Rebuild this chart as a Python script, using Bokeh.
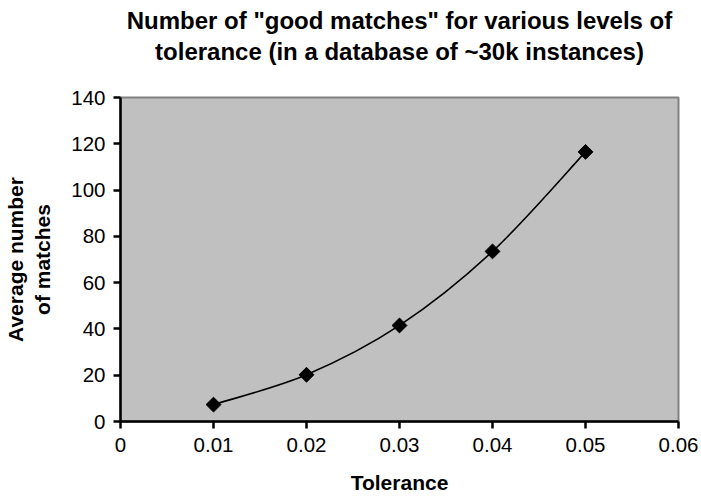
from bokeh.plotting import figure
from bokeh.models import Range1d, FixedTicker, Title
from bokeh.embed import file_html
from bokeh.resources import INLINE

# Tolerance levels and average number of good matches
tolerance = [0.01, 0.02, 0.03, 0.04, 0.05]
avg_matches = [7.3, 20.2, 41.5, 73.5, 116.5]

x_ticks = [0, 0.01, 0.02, 0.03, 0.04, 0.05, 0.06]
x_tick_labels = ["0", "0.01", "0.02", "0.03", "0.04", "0.05", "0.06"]
y_ticks = [0, 20, 40, 60, 80, 100, 120, 140]

title_lines = ["Number of \"good matches\" for various levels of",
               "tolerance (in a database of ~30k instances)"]

FONT = "Liberation Sans"

p = figure(width=701, height=496, output_backend="svg", toolbar_location=None,
           x_range=Range1d(0, 0.06), y_range=Range1d(0, 140),
           min_border_left=119, min_border_right=23, min_border_bottom=75, min_border_top=97)
p.border_fill_color = "white"
p.background_fill_color = "#c0c0c0"
p.outline_line_color = "#808080"
p.outline_line_width = 2
p.grid.visible = False
p.title = None

# blank gap between the plot area and the title block
p.add_layout(Title(text=" ", standoff=4, text_font=FONT, text_font_size="24px"), "above")
# two-line chart title; the line nearest the plot is added first
for line, gap in [(title_lines[1], 0), (title_lines[0], 4)]:
    p.add_layout(Title(text=line, align="center", standoff=gap,
                       text_font=FONT, text_font_size="24px", text_font_style="bold",
                       text_color="black"), "above")

# Catmull-Rom style smoothing between neighbouring points, drawn as cubic Beziers
n = len(tolerance)
x0, y0, x1, y1, cx0, cy0, cx1, cy1 = [], [], [], [], [], [], [], []
for i in range(n - 1):
    a = max(i - 1, 0)
    b = min(i + 2, n - 1)
    x0.append(tolerance[i]); y0.append(avg_matches[i])
    x1.append(tolerance[i + 1]); y1.append(avg_matches[i + 1])
    cx0.append(tolerance[i] + (tolerance[i + 1] - tolerance[a]) / 6)
    cy0.append(avg_matches[i] + (avg_matches[i + 1] - avg_matches[a]) / 6)
    cx1.append(tolerance[i + 1] - (tolerance[b] - tolerance[i]) / 6)
    cy1.append(avg_matches[i + 1] - (avg_matches[b] - avg_matches[i]) / 6)
p.bezier(x0=x0, y0=y0, x1=x1, y1=y1, cx0=cx0, cy0=cy0, cx1=cx1, cy1=cy1,
         line_color="black", line_width=1.6)

# diamond markers: squares turned by 45 degrees
p.scatter(tolerance, avg_matches, marker="square", size=10.5, angle=45, angle_units="deg",
          fill_color="black", line_color="black")

for ax in (p.xaxis[0], p.yaxis[0]):
    ax.axis_line_color = "black"
    ax.axis_line_width = 2.5
    ax.major_tick_line_color = "black"
    ax.major_tick_line_width = 2.5
    ax.major_tick_out = 7
    ax.major_tick_in = 0
    ax.minor_tick_line_color = None
    ax.major_label_text_font = FONT
    ax.major_label_text_font_size = "20.5px"
    ax.major_label_text_color = "black"
    ax.axis_label_text_font = FONT
    ax.axis_label_text_font_size = "21px"
    ax.axis_label_text_font_style = "bold"
    ax.axis_label_text_color = "black"

p.xaxis.ticker = FixedTicker(ticks=x_ticks)
p.xaxis.major_label_overrides = dict(zip(x_ticks, x_tick_labels))
p.xaxis.axis_label = "Tolerance"
p.xaxis.major_label_standoff = 9
p.xaxis.axis_label_standoff = 16

p.yaxis.ticker = FixedTicker(ticks=y_ticks)
p.yaxis.axis_label = "Average number\nof matches"
p.yaxis.major_label_standoff = 8
p.yaxis.axis_label_standoff = 14

open("out.html", "w").write(file_html(p, INLINE))
